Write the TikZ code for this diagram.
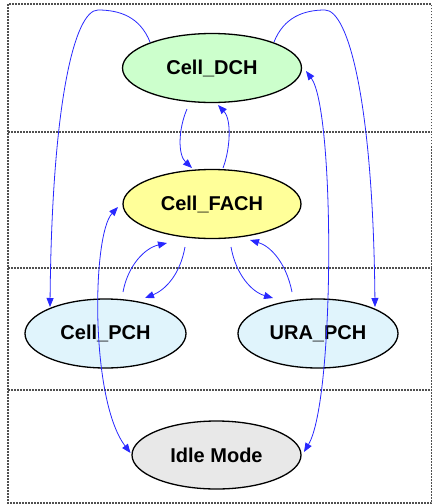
\documentclass[tikz,border=0pt]{standalone}
\usepackage{fontspec}
\setmainfont{Liberation Sans}
\usetikzlibrary{shapes.geometric,arrows.meta,calc}
\definecolor{edgeblue}{RGB}{40,40,255}
\definecolor{dchfill}{RGB}{204,255,204}
\definecolor{fachfill}{RGB}{255,255,153}
\definecolor{pchfill}{RGB}{224,244,252}
\definecolor{idlefill}{RGB}{232,232,232}
\definecolor{framegray}{RGB}{80,80,80}
\tikzset{
  statenode/.style={ellipse, draw=black, line width=1.3pt, inner sep=0pt,
    minimum height=69pt, font=\fontsize{20}{23}\selectfont\bfseries},
  trans/.style={draw=edgeblue, line width=0.8pt,
    -{Triangle[length=9pt,width=7pt]}},
  bitrans/.style={draw=edgeblue, line width=0.8pt,
    {Triangle[length=9pt,width=7pt]}-{Triangle[length=9pt,width=7pt]}},
  sep/.style={draw=framegray, line width=1.1pt, dash pattern=on 1.5pt off 1.5pt}
}
\begin{document}
\begin{tikzpicture}[x=1pt,y=-1pt]
\useasboundingbox (0,0) rectangle (433,504);
% frame and separators
\draw[sep] (8,4) rectangle (431.5,503);
\draw[sep] (8,132) -- (431.5,132);
\draw[sep] (8,268) -- (431.5,268);
\draw[sep] (8,390) -- (431.5,390);
% nodes
\node[statenode, fill=dchfill, minimum width=179pt] (dch) at (212,68) {Cell\_DCH};
\node[statenode, fill=fachfill, minimum width=178pt] (fach) at (212,204) {Cell\_FACH};
\node[statenode, fill=pchfill, minimum width=161pt] (pch) at (105.5,333.5) {Cell\_PCH};
\node[statenode, fill=pchfill, minimum width=160pt] (ura) at (318,333.5) {URA\_PCH};
\node[statenode, fill=idlefill, minimum width=169pt, minimum height=68pt] (idle) at (216.5,455) {Idle Mode};
% DCH -> Cell_PCH (over the top)
\draw[trans] ($(dch.center)+(-62,-26)$) .. controls (140,17) and (120,10) .. (98,10)
  .. controls (75,10) and (52,100) .. ($(pch.center)+(-55.5,-26.5)$);
% DCH -> URA_PCH (over the top)
\draw[trans] ($(dch.center)+(62,-26)$) .. controls (284,17) and (304,10) .. (325,10)
  .. controls (348,10) and (373,100) .. ($(ura.center)+(57,-26.5)$);
% DCH -> FACH
\draw[trans] ($(dch.center)+(-25,41)$) .. controls (178,130) and (178,155) .. ($(fach.center)+(-20,-36)$);
% FACH -> DCH
\draw[trans] ($(fach.center)+(11,-36)$) .. controls (230,150) and (232,120) .. ($(dch.center)+(6,37)$);
% DCH <-> Idle
\draw[bitrans] ($(dch.center)+(94,3)$) .. controls (335,110) and (335,400) .. ($(idle.center)+(87.5,-3)$);
% FACH <-> Idle
\draw[bitrans] ($(fach.center)+(-94,3)$) .. controls (92,235) and (90,400) .. ($(idle.center)+(-86,-2)$);
% PCH -> FACH
\draw[trans] ($(pch.center)+(17.5,-41.5)$) .. controls (128,265) and (145,248) .. ($(fach.center)+(-45,39)$);
% FACH -> PCH
\draw[trans] ($(fach.center)+(-27,43)$) .. controls (180,275) and (165,290) .. ($(pch.center)+(39.5,-35.5)$);
% FACH -> URA
\draw[trans] ($(fach.center)+(19,43)$) .. controls (236,275) and (252,292) .. ($(ura.center)+(-45,-35.5)$);
% URA -> FACH
\draw[trans] ($(ura.center)+(-26,-41.5)$) .. controls (286,262) and (270,246) .. ($(fach.center)+(38,36)$);
\end{tikzpicture}
\end{document}
